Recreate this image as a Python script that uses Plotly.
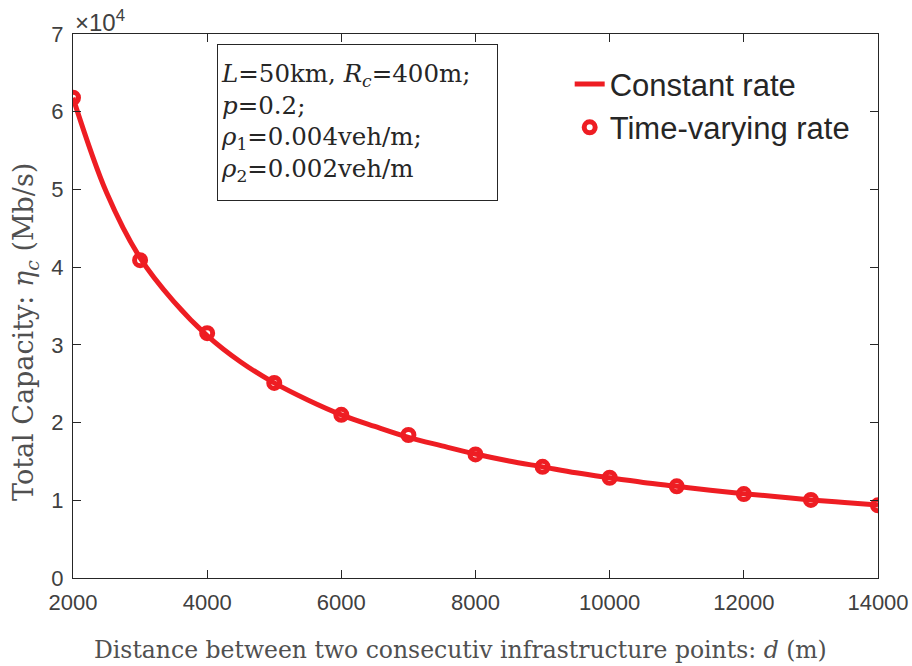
import plotly.graph_objects as go

# Constant rate curve
line_d = [2000, 2500, 3000, 3500, 4000, 4500, 5000, 5500, 6000, 6500, 7000, 7500,
          8000, 8500, 9000, 9500, 10000, 10500, 11000, 11500, 12000, 12500, 13000, 13500, 14000]
line_cap = [61800, 49600, 41200, 35600, 31200, 27800, 25100, 22900, 21000, 19500, 18100, 17000,
            15950, 15050, 14300, 13540, 12900, 12300, 11800, 11300, 10850, 10450, 10050, 9720, 9400]

# Time-varying rate markers
pts_d = [2000, 3000, 4000, 5000, 6000, 7000, 8000, 9000, 10000, 11000, 12000, 13000, 14000]
pts_cap = [61800, 40900, 31500, 25100, 21000, 18400, 15900, 14300, 12900, 11800, 10800, 10050, 9350]

x_ticks = [2000, 4000, 6000, 8000, 10000, 12000, 14000]
x_tick_text = ["2000", "4000", "6000", "8000", "10000", "12000", "14000"]
y_ticks = [0, 10000, 20000, 30000, 40000, 50000, 60000, 70000]
y_tick_text = ["0", "1", "2", "3", "4", "5", "6", "7"]

x_title = "Distance between two consecutiv infrastructure points: <i>d</i> (m)"
y_title = "Total Capacity: <i>η<sub>c</sub></i> (Mb/s)"

RED = "#EE1D23"
AX = "#262626"
TITLE = "#505050"
SERIF = "DejaVu Serif, Liberation Serif"

fig = go.Figure()
fig.add_trace(go.Scatter(x=line_d, y=line_cap, mode="lines", name="Constant rate",
                         line=dict(color=RED, width=5, shape="spline")))
fig.add_trace(go.Scatter(x=pts_d, y=pts_cap, mode="markers", name="Time-varying rate",
                         marker=dict(symbol="circle-open", size=11, color=RED,
                                     line=dict(color=RED, width=5))))

fig.update_layout(
    width=912, height=666,
    margin=dict(l=73, r=34, t=34, b=88, autoexpand=False),
    paper_bgcolor="white", plot_bgcolor="white",
    showlegend=True,
    legend=dict(x=0.617, y=0.957, xanchor="left", yanchor="top",
                font=dict(family="Liberation Sans, Arial", size=31, color=AX),
                bgcolor="rgba(0,0,0,0)", tracegroupgap=0),
    font=dict(family="Liberation Sans, Arial", color=AX),
)
fig.update_xaxes(range=[2000, 14000], tickvals=x_ticks, ticktext=x_tick_text,
                 ticks="inside", ticklen=8, ticklabelstandoff=5, automargin=False,
                 showline=True, linecolor=AX, linewidth=1, mirror="allticks",
                 showgrid=False, zeroline=False, tickcolor=AX,
                 tickfont=dict(size=22, color="#404040"))
fig.update_yaxes(range=[0, 70000], tickvals=y_ticks, ticktext=y_tick_text,
                 ticks="inside", ticklen=8, ticklabelstandoff=4, automargin=False,
                 showline=True, linecolor=AX, linewidth=1, mirror="allticks",
                 showgrid=False, zeroline=False, tickcolor=AX,
                 tickfont=dict(size=22, color="#404040"))

# axis titles
fig.add_annotation(xref="paper", yref="paper", x=(460 - 73) / 805, y=0, yanchor="middle",
                   yshift=-(650 - 578), text=x_title, showarrow=False,
                   font=dict(family=SERIF, size=23.5, color=TITLE))
fig.add_annotation(xref="paper", yref="paper", x=0, xanchor="center", xshift=-(73 - 25),
                   y=(578 - 332) / 544, yanchor="middle", textangle=-90,
                   text=y_title, showarrow=False,
                   font=dict(family=SERIF, size=27, color=TITLE))

fig.add_annotation(xref="paper", yref="paper", x=0.0, y=1.0, xanchor="left", yanchor="bottom",
                   text="×10<sup>4</sup>", showarrow=False, xshift=0, yshift=-4,
                   font=dict(family="Liberation Sans, Arial", size=24, color="#404040"))

box_text = ("<i>L</i>=50km, <i>R<sub>c</sub></i>=400m;<br>"
            "<i>p</i>=0.2;<br>"
            "<i>ρ</i><sub>1</sub>=0.004veh/m;<br>"
            "<i>ρ</i><sub>2</sub>=0.002veh/m")
fig.add_annotation(xref="paper", yref="paper", x=0.179, y=0.9816, xanchor="left", yanchor="top",
                   text=box_text, showarrow=False, align="left", valign="middle",
                   bordercolor=AX, borderwidth=1, borderpad=3, bgcolor="white",
                   width=273, height=149,
                   font=dict(family=SERIF, size=24.5, color=AX))

fig.write_html("out.html")
